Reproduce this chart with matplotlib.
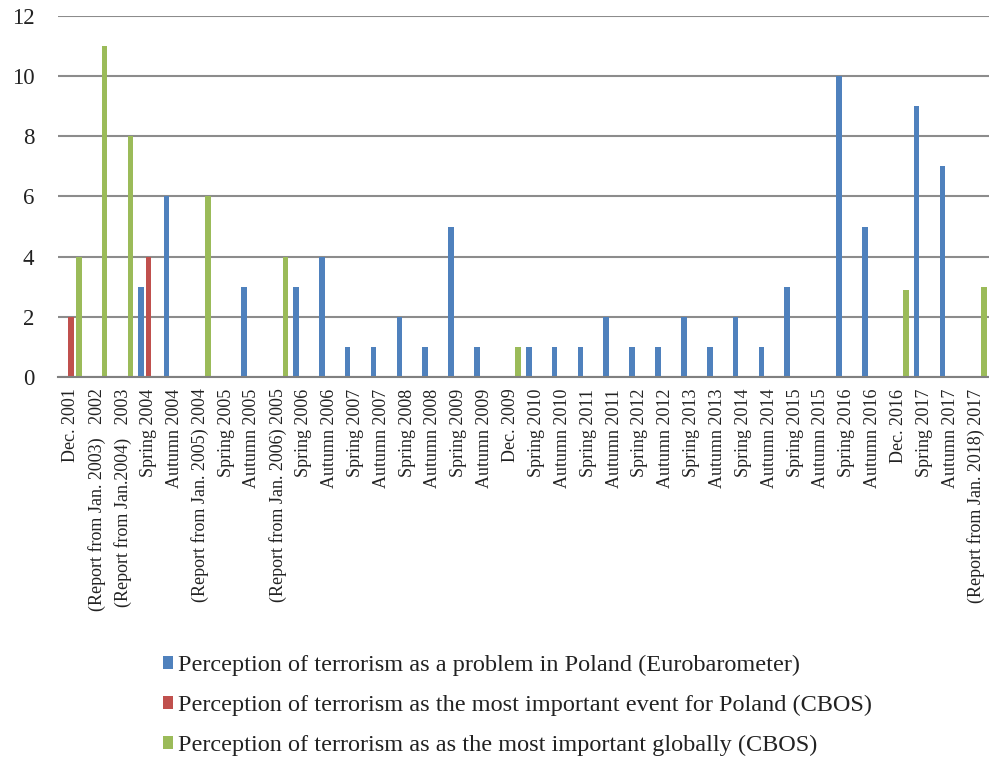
import matplotlib
matplotlib.use("Agg")
import matplotlib.pyplot as plt
import numpy as np

categories = [
    "Dec. 2001", "(Report from Jan. 2003)   2002", "(Report from Jan.2004)   2003",
    "Spring 2004", "Autumn 2004", "(Report from Jan. 2005) 2004", "Spring 2005",
    "Autumn 2005", "(Report from Jan. 2006) 2005", "Spring 2006", "Autumn 2006",
    "Spring 2007", "Autumn 2007", "Spring 2008", "Autumn 2008", "Spring 2009",
    "Autumn 2009", "Dec. 2009", "Spring 2010", "Autumn 2010", "Spring 2011",
    "Autumn 2011", "Spring 2012", "Autumn 2012", "Spring 2013", "Autumn 2013",
    "Spring 2014", "Autumn 2014", "Spring 2015", "Autumn 2015", "Spring 2016",
    "Autumn 2016", "Dec. 2016", "Spring 2017", "Autumn 2017",
    "(Report from Jan. 2018) 2017",
]

eurobarometer = [0, 0, 0, 3, 6, 0, 0, 3, 0, 3, 4, 1, 1, 2, 1, 5, 1, 0, 1, 1, 1,
                 2, 1, 1, 2, 1, 2, 1, 3, 0, 10, 5, 0, 9, 7, 0]
cbos_poland = [2, 0, 0, 4, 0, 0, 0, 0, 0, 0, 0, 0, 0, 0, 0, 0, 0, 0, 0, 0, 0,
               0, 0, 0, 0, 0, 0, 0, 0, 0, 0, 0, 0, 0, 0, 0]
cbos_global = [4, 11, 8, 0, 0, 6, 0, 0, 4, 0, 0, 0, 0, 0, 0, 0, 0, 1, 0, 0, 0,
               0, 0, 0, 0, 0, 0, 0, 0, 0, 0, 0, 2.9, 0, 0, 3]

series_labels = [
    "Perception of terrorism as a problem in Poland (Eurobarometer)",
    "Perception of terrorism as the most important event for Poland (CBOS)",
    "Perception of terrorism as as the most important globally (CBOS)",
]
colors = ["#4F81BD", "#C0504D", "#9BBB59"]

plt.rcParams["font.family"] = ["Liberation Serif", "DejaVu Serif"]

W, H = 989, 758
fig = plt.figure(figsize=(W / 100, H / 100), dpi=100)
ax = fig.add_axes([58 / W, 1 - 377.5 / H, (W - 58) / W, (377.5 - 15.5) / H])

x = np.arange(len(categories))
offset = 0.3
width = 0.22
handles = []
for i, (vals, col) in enumerate(zip([eurobarometer, cbos_poland, cbos_global], colors)):
    v = np.array(vals, dtype=float)
    mask = v > 0
    b = ax.bar(x[mask] + (i - 1) * offset, v[mask], width=width, color=col,
               zorder=3, label=series_labels[i])
    handles.append(b)

ax.set_xlim(-0.5, len(categories) - 0.5)
ax.set_ylim(0, 12)
ax.set_yticks(range(0, 13, 2))
ax.yaxis.grid(True, color="#8c8c8c", linewidth=1.5, zorder=0)
ax.set_axisbelow(True)
for s in ["top", "right", "left"]:
    ax.spines[s].set_visible(False)
ax.spines["bottom"].set_color("#808080")
ax.spines["bottom"].set_linewidth(1.5)
ax.spines["bottom"].set_zorder(4)
ax.tick_params(axis="y", length=0, labelsize=16.5, pad=17, colors="#222222")
ax.tick_params(axis="x", length=0, pad=8)
ax.set_xticks(x)
ax.set_xticklabels(categories, rotation=90, fontsize=13.0, color="#222222")

fig.legend(handles=handles, labels=series_labels, loc="upper left",
           bbox_to_anchor=(141 / W, 1 - 633 / H), frameon=False,
           fontsize=17.5, handlelength=0.42, handleheight=0.42,
           handletextpad=0.22, labelspacing=0.78, labelcolor="#222222")

fig.savefig("out.png", dpi=100)
